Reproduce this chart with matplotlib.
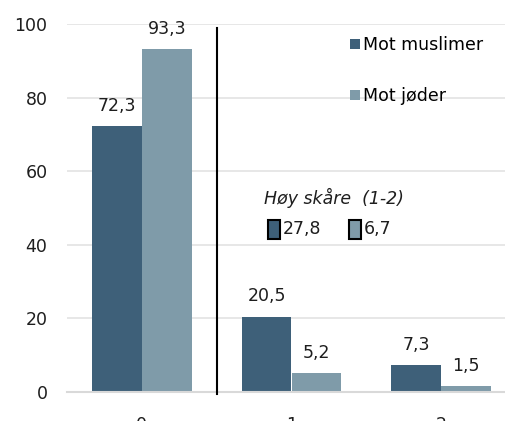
import matplotlib
matplotlib.use("Agg")
import matplotlib.pyplot as plt
from matplotlib.patches import Rectangle
import numpy as np

categories = ["0", "1", "2"]
series_names = ["Mot muslimer", "Mot jøder"]
muslimer = [72.3, 20.5, 7.3]
joder = [93.3, 5.2, 1.5]
high_score = [27.8, 6.7]
yticks = [0, 20, 40, 60, 80, 100]

dark = "#3e6079"
light = "#7f9ba9"
tc = "#1e1e1e"

plt.rcParams["font.family"] = ["DejaVu Sans"]
fs = 12.5

fig = plt.figure(figsize=(5.05, 4.21), dpi=100)
ax = fig.add_axes([67/505, 29/421, 449/505, 368/421])

x = np.arange(len(categories))
w = 1/3
b1 = ax.bar(x - w/2, muslimer, w, color=dark, label=series_names[0], zorder=2)
b2 = ax.bar(x + w/2, joder, w, color=light, label=series_names[1], zorder=2)

fmt = lambda v: f"{v:.1f}".replace(".", ",")
ax.bar_label(b1, labels=[fmt(v) for v in muslimer], padding=8, fontsize=fs, color=tc)
ax.bar_label(b2, labels=[fmt(v) for v in joder], padding=8, fontsize=fs, color=tc)

ax.set_xlim(-0.5, 2.5)
ax.set_ylim(0, 100)
ax.set_yticks(yticks)
ax.set_yticklabels([str(t) for t in yticks], fontsize=fs, color=tc)
ax.set_xticks(x)
ax.set_xticklabels(categories, fontsize=fs, color=tc)
ax.tick_params(axis="both", length=0)
ax.tick_params(axis="y", pad=14)
ax.tick_params(axis="x", pad=17)
ax.grid(axis="y", color="#e3e3e3", linewidth=1.2, zorder=0)
for s in ["top", "right", "left"]:
    ax.spines[s].set_visible(False)
ax.spines["bottom"].set_color("#d9d9d9")
ax.spines["bottom"].set_linewidth(1.5)
ax.set_axisbelow(True)

ax.plot([0.5, 0.5], [-0.5, 99], color="black", linewidth=1.5, clip_on=False, zorder=3)

leg = ax.legend(loc="upper left", bbox_to_anchor=(350/505, 1 - 36/421),
                bbox_transform=fig.transFigure, frameon=False, fontsize=fs,
                handlelength=0.55, handleheight=0.55, handletextpad=0.2,
                labelspacing=1.9, borderpad=0, borderaxespad=0)

ax.text(264/505, 1 - 198/421, "Høy skåre  (1-2)", transform=fig.transFigure,
        fontsize=fs, style="italic", va="center", ha="left", color=tc)
for xs, v, c in [(268, high_score[0], dark), (349, high_score[1], light)]:
    fig.patches.append(Rectangle((xs/505, 1 - 239/421), 12/505, 19/421,
                                 transform=fig.transFigure, facecolor=c,
                                 edgecolor="black", linewidth=1.5, zorder=5))
    ax.text((xs + 15)/505, 1 - 229/421, fmt(v), transform=fig.transFigure,
            fontsize=fs, va="center", ha="left", color=tc)

fig.savefig("out.png", dpi=100)
